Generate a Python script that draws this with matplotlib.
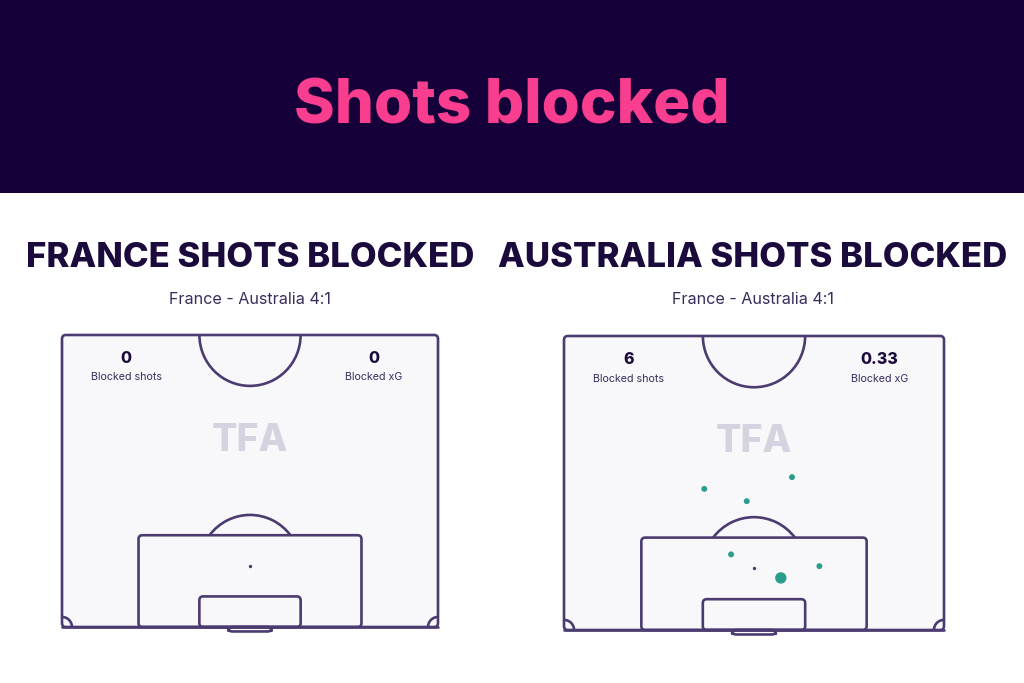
import matplotlib
matplotlib.use("Agg")
import matplotlib.pyplot as plt
from matplotlib.patches import Rectangle, Arc, FancyBboxPatch

# ---------------- data ----------------
title = "Shots blocked"
teams = ["FRANCE", "AUSTRALIA"]
subtitle = "France - Australia 4:1"
blocked_shots = [0, 6]
blocked_xg = ["0", "0.33"]

# Australia's blocked shots (x across pitch 0-68 m, y = distance from goal line in m)
aus_shot_x = [25.1, 40.8, 32.7, 29.9, 45.7, 38.8]
aus_shot_y = [25.2, 27.3, 23.0, 13.5, 11.4, 9.3]
aus_shot_xg = [0.038, 0.038, 0.038, 0.038, 0.038, 0.14]
france_shot_x = []
france_shot_y = []
france_shot_xg = []

# ---------------- style ----------------
W, H = 1024, 683
HEADER = "#16003a"
PINK = "#f93d8f"
NAVY = "#1b0a3c"
LINE = "#4b3b70"
TEXT = "#3a2d5c"
TEAL = "#2a9d8f"
FILL = "#f8f8fa"
HEAD_FONT = ["Inter", "DejaVu Sans"]
BODY_FONT = ["Inter", "DejaVu Sans"]

fig = plt.figure(figsize=(W / 100, H / 100), dpi=100)
fig.patch.set_facecolor("white")

# header band
fig.add_artist(Rectangle((0, 1 - 193 / H), 1, 193 / H, transform=fig.transFigure,
                         facecolor=HEADER, edgecolor="none", zorder=0))
fig.text(512 / W, 1 - 123 / H, title, color=PINK, fontsize=44.5, fontweight="heavy",
         family=HEAD_FONT, ha="center", va="baseline")

PL, PW = 68.0, 52.5  # pitch width, half length
LW = 1.9


def rbox(ax, x, y, w, h, face, z):
    ax.add_patch(FancyBboxPatch((x, y), w, h, boxstyle="round,pad=0,rounding_size=0.7",
                                facecolor=face, edgecolor=LINE, linewidth=LW,
                                joinstyle="round", capstyle="round", zorder=z))


def draw_pitch(ax):
    rbox(ax, 0, 0, PL, PW, FILL, 1)
    rbox(ax, PL / 2 - 20.16, 0, 40.32, 16.5, "none", 2)
    rbox(ax, PL / 2 - 9.16, 0, 18.32, 5.5, "none", 2)
    rbox(ax, PL / 2 - 3.9, -0.8, 7.8, 0.8, "none", 2)
    ax.plot([0, PL], [0, 0], color=LINE, lw=LW, zorder=3, solid_capstyle="round")
    ax.add_patch(Arc((PL / 2, PW), 18.3, 18.3, theta1=180, theta2=360, color=LINE, lw=LW, zorder=2))
    ax.add_patch(Arc((PL / 2, 11), 18.3, 18.3, theta1=36.9, theta2=143.1, color=LINE, lw=LW, zorder=2))
    ax.add_patch(Arc((0, 0), 3.6, 3.6, theta1=0, theta2=90, color=LINE, lw=LW, zorder=2))
    ax.add_patch(Arc((PL, 0), 3.6, 3.6, theta1=90, theta2=180, color=LINE, lw=LW, zorder=2))
    ax.scatter([PL / 2], [11], s=2, color=LINE, zorder=3)
    ax.set_xlim(-3, PL + 3)
    ax.set_ylim(-3, PW + 3)
    ax.axis("off")


def pitch_axes(left, right, top, bottom):
    sx = (right - left) / PL
    sy = (bottom - top) / PW
    lpx = left - 3 * sx
    bpx = (H - bottom) - 3 * sy
    return fig.add_axes([lpx / W, bpx / H, (PL + 6) * sx / W, (PW + 6) * sy / H])


panels = [
    dict(team=teams[0], cx=250, box=(62, 438, 335, 627),
         xs=france_shot_x, ys=france_shot_y, xg=france_shot_xg),
    dict(team=teams[1], cx=753, box=(564, 944, 336, 630),
         xs=aus_shot_x, ys=aus_shot_y, xg=aus_shot_xg),
]

for i, p in enumerate(panels):
    fig.text(p["cx"] / W, 1 - 267 / H, f"{p['team']} SHOTS BLOCKED", color=NAVY,
             fontsize=25, fontweight="heavy", family=HEAD_FONT, ha="center", va="baseline")
    fig.text(p["cx"] / W, 1 - 304 / H, subtitle, color=TEXT, fontsize=11.6,
             family=BODY_FONT, ha="center", va="baseline")
    ax = pitch_axes(*p["box"])
    draw_pitch(ax)
    ax.text(PL / 2, 31.7, "TFA", color="#d5d3df", fontsize=27, fontweight="heavy",
            family=HEAD_FONT, ha="center", va="baseline", zorder=2)
    ax.text(11.6, 47.5, str(blocked_shots[i]), color=NAVY, fontsize=11.5, fontweight="heavy",
            family=HEAD_FONT, ha="center", va="baseline", zorder=3)
    ax.text(11.6, 44.35, "Blocked shots", color=TEXT, fontsize=7.7,
            family=BODY_FONT, ha="center", va="baseline", zorder=3)
    ax.text(56.4, 47.5, blocked_xg[i], color=NAVY, fontsize=11.5, fontweight="heavy",
            family=HEAD_FONT, ha="center", va="baseline", zorder=3)
    ax.text(56.4, 44.35, "Blocked xG", color=TEXT, fontsize=7.7,
            family=BODY_FONT, ha="center", va="baseline", zorder=3)
    if p["xs"]:
        ax.scatter(p["xs"], p["ys"], s=[v * 480 for v in p["xg"]], color=TEAL,
                   edgecolor="none", zorder=4)

fig.savefig("out.png", dpi=100, facecolor="white")
